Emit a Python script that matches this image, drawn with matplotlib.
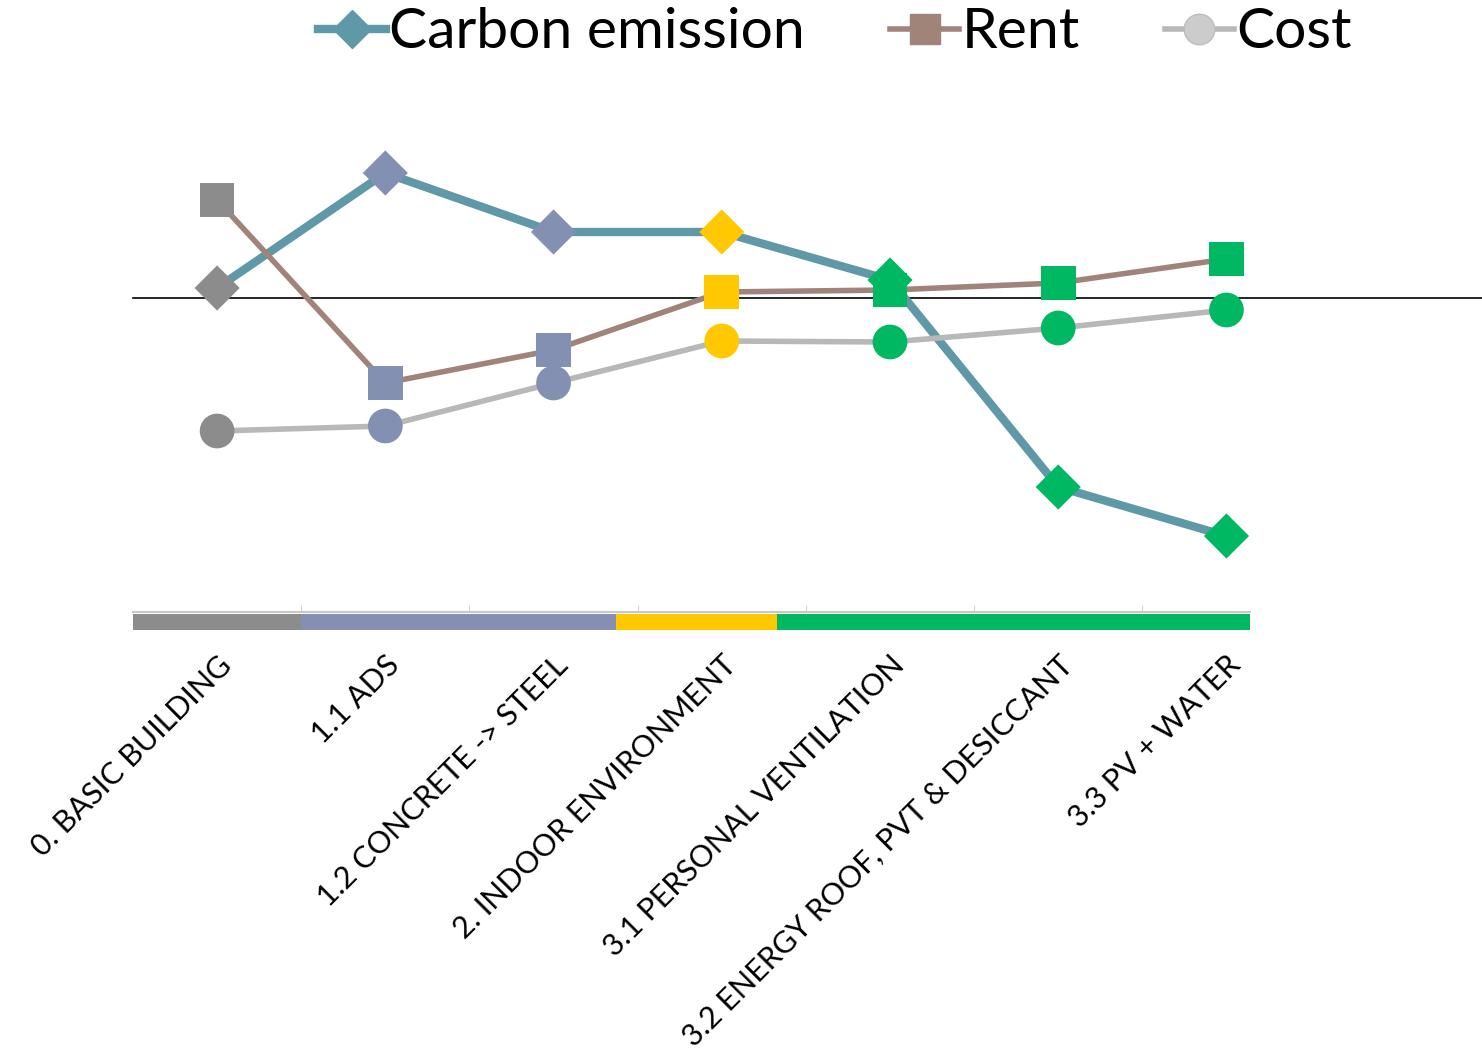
import matplotlib
matplotlib.use('Agg')
import matplotlib.pyplot as plt
from matplotlib.lines import Line2D

plt.rcParams['font.family'] = ['Lato', 'DejaVu Sans']

# Data (relative change; zero line = baseline)
categories = ['0. BASIC BUILDING', '1.1 ADS', '1.2 CONCRETE -> STEEL',
              '2. INDOOR ENVIRONMENT', '3.1 PERSONAL VENTILATION',
              '3.2 ENERGY ROOF, PVT & DESICCANT', '3.3 PV + WATER']
carbon = [0.10, 1.25, 0.66, 0.66, 0.18, -1.89, -2.38]
rent = [0.98, -0.85, -0.52, 0.06, 0.08, 0.15, 0.39]
cost = [-1.33, -1.28, -0.85, -0.43, -0.44, -0.30, -0.12]
group_of = [0, 1, 1, 2, 3, 3, 3]
group_colors = ['#8C8C8C', '#8490B2', '#FFC800', '#00B862']
# colour band under the axis: edges in category units
band_edges = [-0.5, 0.5, 2.37, 3.33, 6.14]

point_colors = [group_colors[g] for g in group_of]
x = list(range(len(categories)))

fig = plt.figure(figsize=(14.82, 10.55), dpi=100)
ax = fig.add_axes([133 / 1482, 1 - 612 / 1055, (1250 - 133) / 1482, (612 - 80) / 1055])

ax.set_xlim(-0.5, 6.14)
ax.set_ylim(-3.14, 2.18)

# zero line running to the right edge of the figure
ax.axhline(0, xmin=0, xmax=(1482 - 133) / (1250 - 133), color='black', lw=1.2,
           clip_on=False, zorder=1)

ax.plot(x, carbon, color='#5F98A6', lw=6, zorder=2)
ax.scatter(x, carbon, marker='D', s=23 ** 2, c=point_colors, linewidths=0, zorder=3)
ax.plot(x, rent, color='#A0847A', lw=4, zorder=4)
ax.scatter(x, rent, marker='s', s=25 ** 2, c=point_colors, linewidths=0, zorder=5)
ax.plot(x, cost, color='#B8B8B8', lw=4, zorder=6)
ax.scatter(x, cost, marker='o', s=25 ** 2, c=point_colors, linewidths=0, zorder=7)

# colour band below the axis
trans = ax.get_xaxis_transform()
for i, col in enumerate(group_colors):
    ax.fill_between([band_edges[i], band_edges[i + 1]], -0.034, -0.004,
                    color=col, transform=trans, clip_on=False, lw=0)

for s in ['top', 'right', 'left']:
    ax.spines[s].set_visible(False)
ax.spines['bottom'].set_color('#C8C8C8')
ax.spines['bottom'].set_linewidth(1.5)
ax.set_yticks([])
ax.set_xticks(x)
ax.set_xticklabels(categories, rotation=45, ha='right', va='top',
                   rotation_mode='anchor', fontsize=22)
ax.tick_params(axis='x', length=0, pad=28)
ax.set_xticks([k + 0.5 for k in range(6)], minor=True)
ax.tick_params(axis='x', which='minor', direction='in', length=5, color='#C8C8C8')

handles = [
    Line2D([], [], color='#5F98A6', lw=6, marker='D', ms=19, mec='#5F98A6', mfc='#5F98A6'),
    Line2D([], [], color='#A0847A', lw=4, marker='s', ms=22, mec='#A0847A', mfc='#A0847A'),
    Line2D([], [], color='#B8B8B8', lw=4, marker='o', ms=22, mec='#BDBDBD', mfc='#CCCCCC'),
]
fig.legend(handles, ['Carbon emission', 'Rent', 'Cost'], loc='center',
           bbox_to_anchor=(835 / 1482, 1 - 33 / 1055), ncol=3, frameon=False,
           fontsize=41, handlelength=1.2, handletextpad=0.05, columnspacing=1.5)

fig.savefig('out.png', dpi=100)
